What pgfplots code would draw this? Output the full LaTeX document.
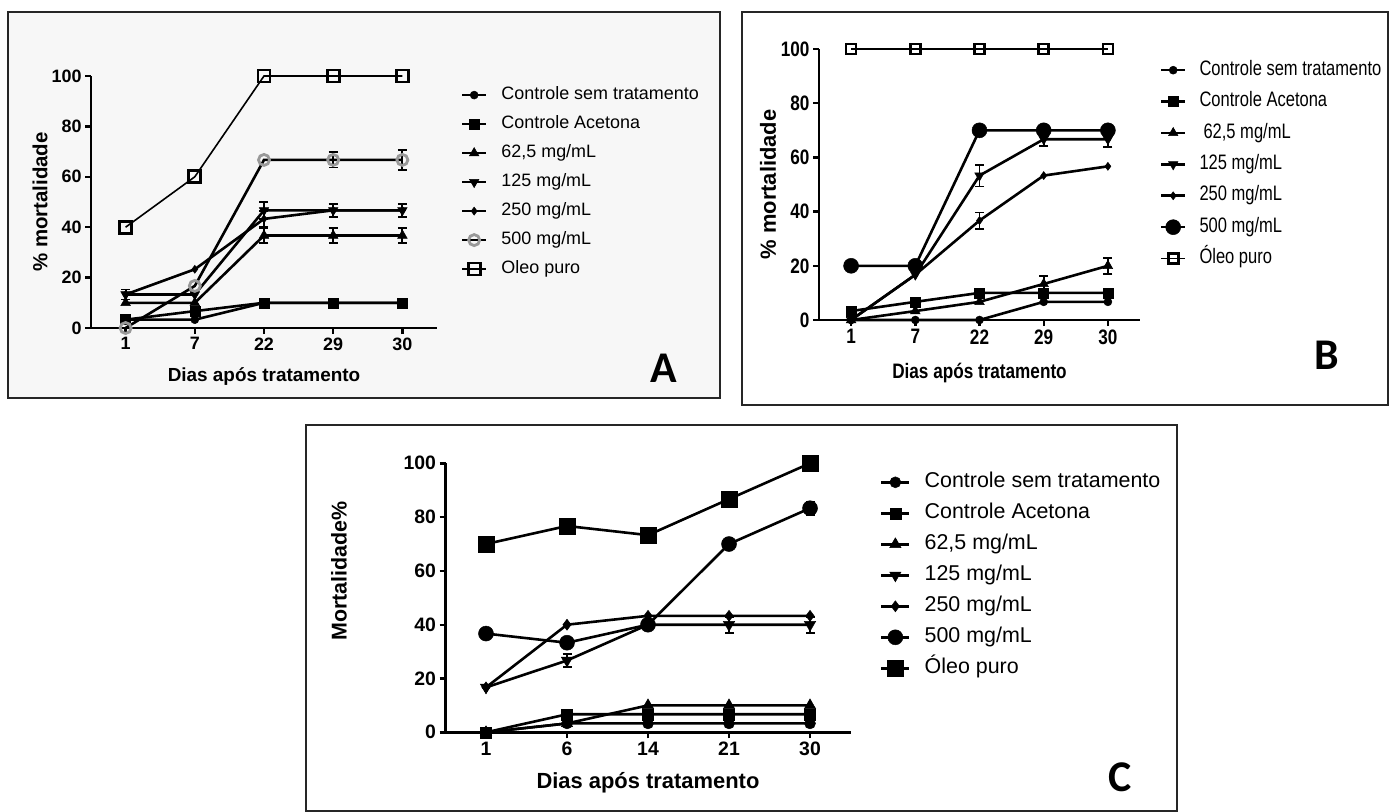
\documentclass[border=0pt]{standalone}
\usepackage{fontspec}
\setmainfont{Liberation Sans}
\newfontfamily\condf{Liberation Sans}[FakeStretch=0.82]
\newfontfamily\condl{Liberation Sans}[FakeStretch=0.79]
\newfontfamily\carlito{Carlito}
\usepackage{pgfplots}
\pgfplotsset{compat=1.18}
\pgfplotsset{
  panel/.style={
    scale only axis,
    axis x line*=bottom, axis y line*=left,
    axis line style={line width=2.4bp, black},
    tick align=outside, major tick length=6bp,
    tick style={line width=2.4bp, black},
    xmin=-0.5, xmax=4.5, ymin=0, ymax=100,
    xtick={0,...,4}, ytick={0,20,...,100},
    /pgf/number format/assume math mode=true,
    clip=false,
    every axis plot/.append style={line width=2.6bp, black},
    legend cell align=left,
    legend image code/.code={\draw[mark repeat=2,mark phase=2] plot coordinates {(0bp,0bp)(12bp,0bp)(24bp,0bp)};},
  },
  ctl/.style={mark=*, mark size=4bp, mark options={solid, line width=0.5bp, fill=black}},
  ace/.style={mark=square*, mark size=5bp, mark options={solid, line width=0.5bp, fill=black}},
  t62/.style={mark=triangle*, mark size=5.5bp, mark options={solid, line width=0.5bp, fill=black}},
  t125/.style={mark=triangle*, mark size=5.5bp, mark options={solid, line width=0.5bp, fill=black, rotate=180}},
  t250/.style={mark=diamond*, mark size=4bp, mark options={solid, line width=0.5bp, fill=black}},
  errs/.style={draw=none, mark=none, forget plot,
    error bars/.cd, y dir=both, y explicit,
    error bar style={line width=1.8bp, black},
    error mark options={rotate=90, mark size=4.5bp, line width=1.8bp, black}},
}
\begin{document}
\begin{tikzpicture}
\useasboundingbox (0bp,0bp) rectangle (1390bp,-812bp);
\begin{scope}[x=1bp,y=-1bp]
\fill[black!3] (8,12) rectangle (720,398);
\draw[line width=2bp, black!85] (8,12) rectangle (720,398);
\draw[line width=2bp, black!85] (742,12) rectangle (1388,405);
\draw[line width=2bp, black!85] (306,425) rectangle (1177,811);
\node[font=\carlito\bfseries\fontsize{44}{44}\selectfont] at (664,368) {A};
\node[font=\carlito\bfseries\fontsize{44}{44}\selectfont] at (1327,355) {B};
\node[font=\carlito\bfseries\fontsize{44}{44}\selectfont] at (1120,777) {C};
\end{scope}

% ---------------- Panel A ----------------
\begin{axis}[panel,
  at={(91bp,-328bp)}, anchor=south west, width=346bp, height=252bp,
  xticklabels={1,7,22,29,30},
  ticklabel style={font=\bfseries\fontsize{18}{20}\selectfont},
  xlabel={Dias após tratamento},
  xlabel style={font=\bfseries\fontsize{19}{21}\selectfont, at={(axis description cs:0.5,-0.194)}, anchor=center},
  ylabel={\% mortalidade},
  ylabel style={font=\bfseries\fontsize{20.5}{22}\selectfont, at={(axis description cs:-0.147,0.5)}, anchor=center},
  legend style={at={(1.069,0.958)}, anchor=north west, draw=none, fill=none, inner sep=0pt, outer sep=0pt,
    row sep=12bp, column sep=14bp, font=\fontsize{18}{20}\selectfont,
    nodes={inner sep=0pt, text height=13bp, text depth=4bp}},
]
\addplot[ctl] coordinates {(0,3.3)(1,3.3)(2,10)(3,10)(4,10)};
\addlegendentry{Controle sem tratamento}
\addplot[ace] coordinates {(0,3.3)(1,6.7)(2,10)(3,10)(4,10)};
\addlegendentry{Controle Acetona}
\addplot[t62] coordinates {(0,10)(1,10)(2,36.7)(3,36.7)(4,36.7)};
\addlegendentry{62,5 mg/mL}
\addplot[t125] coordinates {(0,13.3)(1,13.3)(2,46.7)(3,46.7)(4,46.7)};
\addlegendentry{125 mg/mL}
\addplot[t250] coordinates {(0,13.3)(1,23.3)(2,43.3)(3,46.7)(4,46.7)};
\addlegendentry{250 mg/mL}
\addplot[mark=o, mark size=5.5bp, mark options={solid, draw=black!40, line width=2.8bp, fill=white}] coordinates {(0,0)(1,16.7)(2,66.7)(3,66.7)(4,66.7)};
\addlegendentry{500 mg/mL}
\addplot[line width=1.6bp, mark=square, mark size=6bp, mark options={solid, line width=2.8bp, fill=white}] coordinates {(0,40)(1,60)(2,100)(3,100)(4,100)};
\addlegendentry{Oleo puro}
\addplot[errs] coordinates {(2,36.7) +- (0,3) (3,36.7) +- (0,3) (4,36.7) +- (0,3)};
\addplot[errs] coordinates {(0,13.3) +- (0,2) (2,46.7) +- (0,3.3) (3,46.7) +- (0,2.5) (4,46.7) +- (0,2.5)};
\addplot[errs] coordinates {(2,43.3) +- (0,3)};
\addplot[errs] coordinates {(3,66.7) +- (0,3) (4,66.7) +- (0,4)};
\end{axis}

% ---------------- Panel B ----------------
\begin{axis}[panel,
  at={(819bp,-320bp)}, anchor=south west, width=321bp, height=271bp,
  xticklabels={1,7,22,29,30},
  ticklabel style={font=\condf\bfseries\fontsize{21}{22}\selectfont},
  xlabel={Dias após tratamento},
  xlabel style={font=\condf\bfseries\fontsize{21}{23}\selectfont, at={(axis description cs:0.5,-0.196)}, anchor=center},
  ylabel={\% mortalidade},
  ylabel style={font=\bfseries\fontsize{22}{24}\selectfont, at={(axis description cs:-0.159,0.5)}, anchor=center},
  legend style={at={(1.062,0.958)}, anchor=north west, draw=none, fill=none, inner sep=0pt, outer sep=0pt,
    row sep=11.8bp, column sep=13bp, font=\condl\fontsize{21}{23}\selectfont,
    nodes={inner sep=0pt, text height=15bp, text depth=4.6bp}},
]
\addplot[ctl] coordinates {(0,0)(1,0)(2,0)(3,6.7)(4,6.7)};
\addlegendentry{Controle sem tratamento}
\addplot[ace] coordinates {(0,3.3)(1,6.7)(2,10)(3,10)(4,10)};
\addlegendentry{Controle Acetona}
\addplot[t62] coordinates {(0,0)(1,3.3)(2,6.7)(3,13.3)(4,20)};
\addlegendentry{\hspace{4bp}62,5 mg/mL}
\addplot[t125] coordinates {(0,0)(1,16.7)(2,53.3)(3,66.7)(4,66.7)};
\addlegendentry{125 mg/mL}
\addplot[t250] coordinates {(0,0)(1,16.7)(2,36.7)(3,53.3)(4,56.7)};
\addlegendentry{250 mg/mL}
\addplot[mark=*, mark size=7.5bp, mark options={solid, line width=0.5bp, fill=black}] coordinates {(0,20)(1,20)(2,70)(3,70)(4,70)};
\addlegendentry{500 mg/mL}
\addplot[line width=1.4bp, mark=square, mark size=5bp, mark options={solid, line width=2.6bp, fill=white}] coordinates {(0,100)(1,100)(2,100)(3,100)(4,100)};
\addlegendentry{Óleo puro}
\addplot[errs] coordinates {(3,13.3) +- (0,3) (4,20) +- (0,3)};
\addplot[errs] coordinates {(2,53.3) +- (0,4) (3,66.7) +- (0,2.5) (4,66.7) +- (0,3)};
\addplot[errs] coordinates {(2,36.7) +- (0,3)};
\end{axis}

% ---------------- Panel C ----------------
\begin{axis}[panel,
  at={(445.5bp,-732.3bp)}, anchor=south west, width=405bp, height=269bp,
  xticklabels={1,6,14,21,30},
  ticklabel style={font=\bfseries\fontsize{19.5}{21}\selectfont},
  xlabel={Dias após tratamento},
  xlabel style={font=\bfseries\fontsize{22}{24}\selectfont, at={(axis description cs:0.5,-0.188)}, anchor=center},
  ylabel={Mortalidade\%},
  ylabel style={font=\bfseries\fontsize{21.5}{23}\selectfont, at={(axis description cs:-0.263,0.6)}, anchor=center},
  legend style={at={(1.073,0.967)}, anchor=north west, draw=none, fill=none, inner sep=0pt, outer sep=0pt,
    row sep=10.8bp, column sep=14bp, font=\fontsize{21.5}{23}\selectfont,
    nodes={inner sep=0pt, text height=15.5bp, text depth=4.7bp}},
  legend image code/.code={\draw[mark repeat=2,mark phase=2] plot coordinates {(0bp,0bp)(14bp,0bp)(28bp,0bp)};},
]
\addplot[ctl, mark size=5.5bp] coordinates {(0,0)(1,3.3)(2,3.3)(3,3.3)(4,3.3)};
\addlegendentry{Controle sem tratamento}
\addplot[ace, mark size=5.5bp] coordinates {(0,0)(1,6.7)(2,6.7)(3,6.7)(4,6.7)};
\addlegendentry{Controle Acetona}
\addplot[t62, mark size=6.5bp] coordinates {(0,0)(1,3.3)(2,10)(3,10)(4,10)};
\addlegendentry{62,5 mg/mL}
\addplot[t125, mark size=6.5bp] coordinates {(0,16.7)(1,26.7)(2,40)(3,40)(4,40)};
\addlegendentry{125 mg/mL}
\addplot[t250, mark size=5.5bp] coordinates {(0,16.7)(1,40)(2,43.3)(3,43.3)(4,43.3)};
\addlegendentry{250 mg/mL}
\addplot[mark=*, mark size=7.5bp, mark options={solid, line width=0.5bp, fill=black}] coordinates {(0,36.7)(1,33.3)(2,40)(3,70)(4,83.3)};
\addlegendentry{500 mg/mL}
\addplot[mark=square*, mark size=8bp, mark options={solid, line width=0.5bp, fill=black}] coordinates {(0,70)(1,76.7)(2,73.3)(3,86.7)(4,100)};
\addlegendentry{Óleo puro}
\addplot[errs] coordinates {(1,26.7) +- (0,2.5) (3,40) +- (0,3) (4,40) +- (0,3)};
\addplot[errs] coordinates {(4,83.3) +- (0,2.5)};
\end{axis}
\end{tikzpicture}
\end{document}
